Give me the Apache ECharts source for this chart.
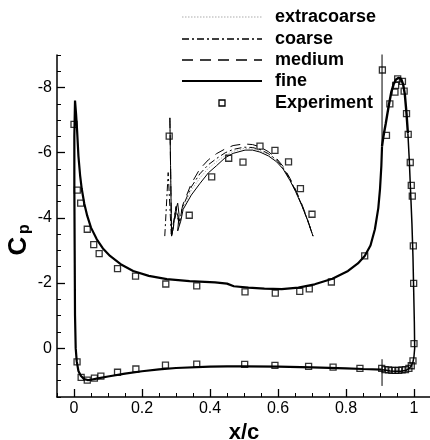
<!DOCTYPE html>
<html>
<head>
<meta charset="utf-8">
<script src="https://cdn.jsdelivr.net/npm/echarts/dist/echarts.min.js"></script>
<style>
  html, body { margin: 0; padding: 0; background: #fff; }
  #chart { width: 430px; height: 440px; }
</style>
</head>
<body>
<div id="chart"></div>
<script>
// tick labels
var xTicks = [0, 0.2, 0.4, 0.6, 0.8, 1];
var yTicks = [-8, -6, -4, -2, 0];

// legend entries
var legendNames = ['extracoarse', 'coarse', 'medium', 'fine', 'Experiment'];

// slat pressure curves for the four grids  [x/c, Cp]
var slatExtra = [[0.282,-7.07],[0.287,-3.44],[0.294,-3.8],[0.3,-4.25],[0.305,-4.1],[0.31,-3.85],[0.319,-4.25],[0.345,-4.85],[0.37,-5.22],[0.395,-5.52],[0.419,-5.72],[0.445,-5.92],[0.468,-6.04],[0.5,-6.13],[0.525,-6.12],[0.547,-6.06],[0.572,-5.94],[0.596,-5.76],[0.615,-5.53],[0.635,-5.18],[0.652,-4.83],[0.669,-4.43],[0.686,-3.97],[0.703,-3.44]];
var slatCoarse = [[0.267,-3.44],[0.277,-5.39],[0.286,-3.5],[0.295,-4.0],[0.3,-4.35],[0.305,-4.0],[0.31,-3.8],[0.318,-4.3],[0.345,-4.95],[0.37,-5.35],[0.395,-5.63],[0.419,-5.82],[0.445,-6.0],[0.468,-6.1],[0.5,-6.17],[0.525,-6.16],[0.547,-6.1],[0.572,-5.97],[0.596,-5.78],[0.615,-5.54],[0.635,-5.19],[0.652,-4.83],[0.669,-4.42],[0.686,-3.96],[0.703,-3.44]];
var slatMedium = [[0.282,-7.07],[0.287,-3.44],[0.296,-3.9],[0.302,-4.3],[0.306,-4.0],[0.31,-3.9],[0.32,-4.4],[0.345,-5.05],[0.37,-5.5],[0.395,-5.78],[0.419,-5.97],[0.445,-6.12],[0.468,-6.22],[0.5,-6.27],[0.525,-6.25],[0.547,-6.18],[0.572,-6.03],[0.596,-5.82],[0.615,-5.58],[0.635,-5.22],[0.652,-4.86],[0.669,-4.45],[0.686,-3.98],[0.703,-3.44]];
var slatFine = [[0.282,-7.07],[0.284,-5.6],[0.287,-3.44],[0.292,-3.7],[0.298,-4.2],[0.305,-4.45],[0.309,-4.1],[0.305,-3.6],[0.308,-3.55],[0.314,-3.9],[0.321,-4.26],[0.345,-4.7],[0.37,-5.05],[0.395,-5.38],[0.419,-5.6],[0.445,-5.85],[0.468,-5.98],[0.503,-6.08],[0.525,-6.08],[0.547,-6.02],[0.572,-5.9],[0.596,-5.72],[0.615,-5.5],[0.635,-5.15],[0.652,-4.8],[0.669,-4.4],[0.686,-3.95],[0.703,-3.44]];

// main element, lower trailing edge -> leading edge -> upper trailing edge
var mainElem = [[0.905,0.66],[0.85,0.64],[0.8,0.62],[0.7,0.59],[0.6,0.57],[0.5,0.56],[0.45,0.56],[0.4,0.57],[0.3,0.61],[0.25,0.65],[0.2,0.71],[0.15,0.78],[0.1,0.87],[0.07,0.93],[0.05,0.97],[0.04,0.98],[0.03,0.95],[0.02,0.85],[0.013,0.7],[0.008,0.4],[0.005,0.0],[0.003,-1.0],[0.002,-3.0],[0.001,-5.0],[0.001,-6.5],[0.003,-7.6],[0.006,-7.2],[0.009,-6.7],[0.013,-5.9],[0.018,-5.3],[0.0226,-4.9],[0.03,-4.45],[0.039,-4.06],[0.05,-3.7],[0.067,-3.34],[0.085,-3.06],[0.106,-2.83],[0.14,-2.56],[0.174,-2.37],[0.22,-2.22],[0.273,-2.12],[0.34,-2.06],[0.415,-2.02],[0.45,-1.98],[0.47,-1.9],[0.513,-1.86],[0.56,-1.83],[0.611,-1.81],[0.66,-1.86],[0.708,-1.96],[0.76,-2.13],[0.806,-2.37],[0.835,-2.6],[0.855,-2.83],[0.872,-3.15],[0.885,-3.65],[0.895,-4.3],[0.9,-4.88],[0.904,-5.6],[0.906,-6.2]];

// flap
var flapPeak = [[0.906,-6.2],[0.91,-6.5],[0.917,-6.9],[0.925,-7.4],[0.933,-7.85],[0.94,-8.1],[0.947,-8.25],[0.955,-8.3],[0.962,-8.27],[0.968,-8.1],[0.973,-7.8],[0.978,-7.2],[0.982,-6.6]];
var flapRest = [[0.982,-6.6],[0.986,-5.8],[0.99,-4.8],[0.994,-3.8],[0.997,-2.8],[0.999,-1.8],[1.001,-0.8],[1.002,0.0],[1.0,0.25],[0.997,0.42],[0.992,0.55],[0.985,0.63],[0.975,0.69],[0.96,0.71],[0.945,0.71],[0.93,0.7],[0.918,0.68],[0.906,0.66]];
var flapLeTop = [[0.906,-9.6],[0.906,-6.2]];
var flapLeBottom = [[0.906,1.16],[0.906,0.34]];

// experiment
var expMain = [[0.0,-6.87],[0.0097,-4.85],[0.0196,-4.45],[0.039,-3.65],[0.058,-3.18],[0.074,-2.9],[0.128,-2.44],[0.181,-2.21],[0.27,-1.97],[0.361,-1.91],[0.503,-1.73],[0.592,-1.69],[0.664,-1.74],[0.692,-1.82],[0.757,-2.03],[0.855,-2.83],
  [0.009,0.42],[0.021,0.9],[0.039,0.98],[0.06,0.92],[0.079,0.86],[0.128,0.74],[0.182,0.64],[0.269,0.52],[0.361,0.49],[0.502,0.5],[0.591,0.53],[0.69,0.56],[0.762,0.58],[0.841,0.62],[0.905,0.62]];
var expFlap = [[0.907,-8.54],[0.919,-6.53],[0.929,-7.5],[0.944,-7.86],[0.946,-8.07],[0.952,-8.27],[0.966,-8.19],[0.971,-7.89],[0.978,-7.2],[0.983,-6.56],[0.989,-5.7],[0.992,-5.0],[0.995,-4.67],[0.998,-3.14],[0.999,-1.99],[1.0,-0.14],[0.997,0.39],
  [0.915,0.66],[0.925,0.67],[0.935,0.68],[0.945,0.68],[0.955,0.68],[0.965,0.67],[0.975,0.66],[0.985,0.62],[0.992,0.54]];
var expSlat = [[0.28,-6.51],[0.339,-4.08],[0.405,-5.26],[0.455,-5.83],[0.497,-5.71],[0.547,-6.2],[0.591,-6.07],[0.631,-5.72],[0.666,-4.9],[0.7,-4.11]];

var font = '"Liberation Sans", Arial, Helvetica, sans-serif';

var styles = {
	extracoarse : { color: '#b0b0b0', width: 1, type: [1.5, 1.5] },
	coarse : { color: '#000', width: 1, type: [7, 3, 2, 3] },
	medium : { color: '#000', width: 1, type: [10, 7] },
	fine : { color: '#000', width: 1.5, type: 'solid' }
};

function lineSeries(name, data, style, width){
	return {
		name: name,
		type: 'line',
		data: data,
		symbol: 'none',
		smooth: false,
		lineStyle: { color: style.color, width: width || style.width, type: style.type },
		z: 3
	};
}

// legend drawn by hand so the line samples keep their dash patterns
var legendRows = [17, 39, 60, 81, 103];
var graphics = [];
for (var i in legendNames){
	var nm = legendNames[i];
	var yy = legendRows[i];
	if (styles[nm]){
		graphics.push({
			type: 'line',
			shape: { x1: 182, y1: yy, x2: 262, y2: yy },
			style: { stroke: nm == 'extracoarse' ? '#c8c8c8' : '#000', lineWidth: nm == 'fine' ? 1.8 : 1.4, lineDash: styles[nm].type == 'solid' ? null : (nm == 'medium' ? [11, 7] : styles[nm].type) }
		});
	} else {
		graphics.push({
			type: 'rect',
			shape: { x: 219, y: yy - 3, width: 6, height: 6 },
			style: { fill: 'none', stroke: '#000', lineWidth: 1.3 }
		});
	}
	graphics.push({
		type: 'text',
		x: 275, y: yy,
		style: { text: nm, font: 'bold 18px ' + font, fill: '#000', verticalAlign: 'middle' }
	});
}
// C_p axis title
graphics.push({
	type: 'text', x: 19, y: 246, rotation: Math.PI / 2,
	style: { text: 'C', font: 'bold 26px ' + font, fill: '#000', align: 'center', verticalAlign: 'middle' }
});
graphics.push({
	type: 'text', x: 25, y: 229, rotation: Math.PI / 2,
	style: { text: 'p', font: 'bold 16px ' + font, fill: '#000', align: 'center', verticalAlign: 'middle' }
});

var axisLine = { show: true, onZero: false, lineStyle: { color: '#000', width: 1.5 } };
var hiddenLine = { show: false, onZero: false };

var chart = echarts.init(document.getElementById('chart'));

var options = {
	animation: false,
	backgroundColor: '#fff',
	grid: { left: 57, top: 55, width: 374, height: 342, containLabel: false, outerBoundsMode: 'none' },
	xAxis: [
		{
			type: 'value', min: -0.05, max: 1.05, position: 'bottom',
			axisLine: axisLine,
			axisTick: { show: true, inside: true, length: 8, customValues: xTicks, lineStyle: { color: '#000', width: 1.3 } },
			axisLabel: { customValues: xTicks, color: '#000', fontSize: 16, fontFamily: font, margin: 4 },
			splitLine: { show: false },
			name: 'x/c', nameLocation: 'middle', nameGap: 17,
			nameTextStyle: { color: '#000', fontSize: 22, fontWeight: 'bold', fontFamily: font, verticalAlign: 'top' }
		},
		{
			type: 'value', min: -0.05, max: 1.05, interval: 0.05, position: 'bottom',
			axisLine: hiddenLine,
			axisTick: { show: true, inside: true, length: 4, lineStyle: { color: '#000', width: 1 } },
			axisLabel: { show: false },
			splitLine: { show: false }
		}
	],
	yAxis: [
		{
			type: 'value', inverse: true, min: -9, max: 1.5, position: 'left',
			axisLine: axisLine,
			axisTick: { show: true, inside: true, length: 8, customValues: yTicks, lineStyle: { color: '#000', width: 1.3 } },
			axisLabel: { customValues: yTicks, color: '#000', fontSize: 16, fontFamily: font, margin: 5 },
			splitLine: { show: false }
		},
		{
			type: 'value', inverse: true, min: -9, max: 1.5, interval: 0.5, position: 'left',
			axisLine: hiddenLine,
			axisTick: { show: true, inside: true, length: 4, lineStyle: { color: '#000', width: 1 } },
			axisLabel: { show: false },
			splitLine: { show: false }
		}
	],
	graphic: graphics,
	series: [
		lineSeries('extracoarse', slatExtra, styles.extracoarse),
		lineSeries('coarse', slatCoarse, styles.coarse),
		lineSeries('medium', slatMedium, styles.medium),
		lineSeries('fine', slatFine, styles.fine, 1),
		lineSeries('fine', mainElem, styles.fine, 2.2),
		lineSeries('fine', flapPeak, styles.fine, 2.4),
		lineSeries('fine', flapRest, styles.fine, 1.5),
		lineSeries('fine', flapLeTop, styles.fine, 1),
		lineSeries('fine', flapLeBottom, styles.fine, 1),
		{
			name: 'Experiment',
			type: 'scatter',
			data: expMain.concat(expFlap).concat(expSlat),
			symbol: 'rect',
			symbolSize: 6,
			itemStyle: { color: 'rgba(0,0,0,0)', borderColor: '#000', borderWidth: 1.3 },
			z: 5
		}
	]
};

chart.setOption(options);
</script>
</body>
</html>
